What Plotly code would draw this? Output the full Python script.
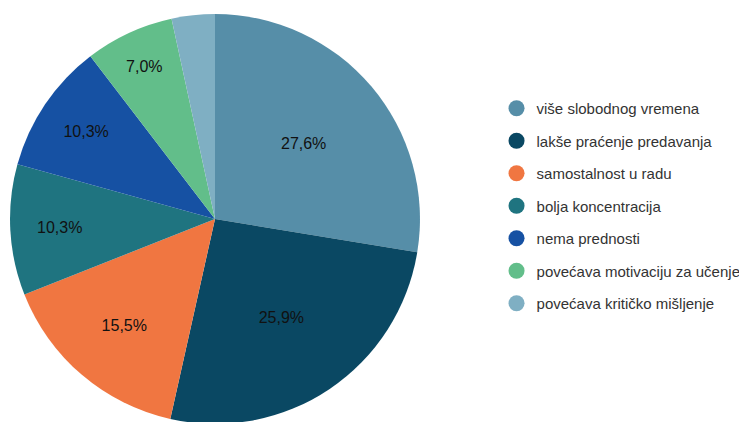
import plotly.graph_objects as go

categories = [
    "više slobodnog vremena",
    "lakše praćenje predavanja",
    "samostalnost u radu",
    "bolja koncentracija",
    "nema prednosti",
    "povećava motivaciju za učenje",
    "povećava kritičko mišljenje",
]
shares = [27.6, 25.9, 15.5, 10.3, 10.3, 7.0, 3.4]
labels = ["27,6%", "25,9%", "15,5%", "10,3%", "10,3%", "7,0%", ""]
colors = ["#568ea8", "#0a4863", "#f07641", "#1f7480", "#1651a3", "#62be8a", "#7fafc3"]

fig = go.Figure()

fig.add_trace(go.Pie(
    labels=categories,
    values=shares,
    text=labels,
    textinfo="text",
    textposition="inside",
    insidetextorientation="horizontal",
    textfont=dict(family="Liberation Sans, Arial", size=16, color="#111"),
    marker=dict(colors=colors, line=dict(width=0)),
    sort=False,
    direction="clockwise",
    rotation=0,
    showlegend=False,
    domain=dict(x=[0.0027, 0.5515], y=[0.014, 0.986]),
    hoverinfo="label+percent",
))

# legend with round markers
for name, c in zip(categories, colors):
    fig.add_trace(go.Scatter(
        x=[None], y=[None], mode="markers", name=name, legendgroup=name,
        marker=dict(color=c, size=17, symbol="circle"),
    ))

fig.update_layout(
    width=747, height=422,
    margin=dict(l=0, r=0, t=0, b=0),
    paper_bgcolor="white", plot_bgcolor="white",
    font=dict(family="Liberation Sans, Arial", size=15, color="#333"),
    xaxis=dict(visible=False), yaxis=dict(visible=False),
    legend=dict(x=0.654, xanchor="left", y=0.801, yanchor="top",
                tracegroupgap=10, bgcolor="rgba(0,0,0,0)"),
)

fig.write_html("out.html")
